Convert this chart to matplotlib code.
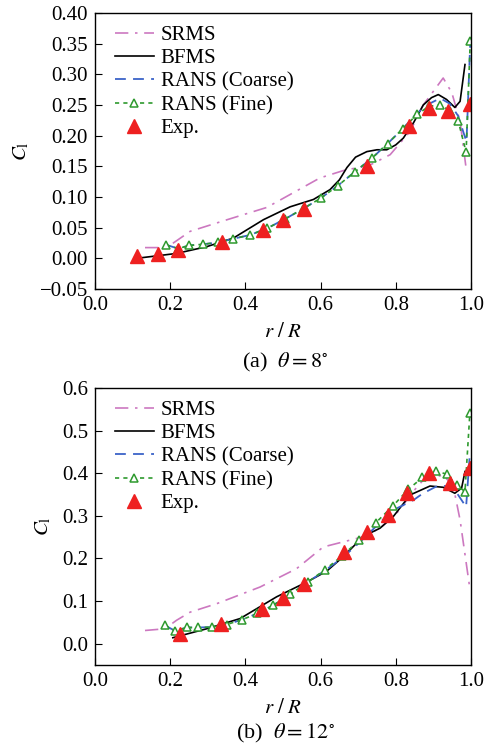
import numpy as np
import matplotlib
matplotlib.use('Agg')
import matplotlib.pyplot as plt

plt.rcParams['font.family'] = ['Liberation Serif', 'DejaVu Serif']
plt.rcParams['mathtext.fontset'] = 'stix'

# ---- (a) theta = 8 deg ----
a_srms_r = [0.133, 0.19, 0.213, 0.253, 0.341, 0.457, 0.598, 0.660, 0.731, 0.785, 0.838, 0.873, 0.926, 0.949, 0.971, 0.988]
a_srms_c = [0.0175, 0.0175, 0.027, 0.044, 0.061, 0.083, 0.131, 0.143, 0.152, 0.169, 0.207, 0.250, 0.294, 0.270, 0.223, 0.142]

a_bfms_r = [0.124, 0.217, 0.297, 0.368, 0.448, 0.519, 0.581, 0.625, 0.650, 0.670, 0.693, 0.723, 0.750, 0.776, 0.800, 0.820, 0.848, 0.873, 0.895, 0.913, 0.935, 0.957, 0.971, 0.984]
a_bfms_c = [0.001, 0.008, 0.019, 0.033, 0.063, 0.084, 0.096, 0.112, 0.128, 0.148, 0.165, 0.174, 0.177, 0.177, 0.185, 0.196, 0.222, 0.250, 0.262, 0.267, 0.259, 0.246, 0.256, 0.316]

a_coarse_r = [0.189, 0.221, 0.251, 0.288, 0.328, 0.368, 0.412, 0.458, 0.505, 0.554, 0.600, 0.645, 0.691, 0.736, 0.778, 0.818, 0.857, 0.889, 0.918, 0.944, 0.966, 0.988, 0.998]
a_coarse_c = [0.022, 0.016, 0.021, 0.023, 0.026, 0.032, 0.038, 0.049, 0.064, 0.081, 0.098, 0.118, 0.141, 0.163, 0.187, 0.211, 0.237, 0.252, 0.261, 0.252, 0.232, 0.190, 0.352]

a_fine_r = [0.189, 0.221, 0.251, 0.288, 0.328, 0.368, 0.412, 0.458, 0.505, 0.554, 0.600, 0.645, 0.691, 0.736, 0.778, 0.818, 0.857, 0.889, 0.918, 0.944, 0.966, 0.987, 0.998]
a_fine_c = [0.022, 0.016, 0.021, 0.023, 0.026, 0.032, 0.038, 0.049, 0.064, 0.081, 0.098, 0.118, 0.141, 0.163, 0.187, 0.211, 0.235, 0.248, 0.250, 0.241, 0.224, 0.173, 0.354]

a_exp_r = [0.113, 0.168, 0.220, 0.339, 0.446, 0.499, 0.557, 0.723, 0.835, 0.888, 0.940, 0.997]
a_exp_c = [0.004, 0.007, 0.013, 0.026, 0.046, 0.063, 0.081, 0.151, 0.215, 0.245, 0.240, 0.252]

# ---- (b) theta = 12 deg ----
b_srms_r = [0.133, 0.186, 0.217, 0.253, 0.324, 0.439, 0.536, 0.607, 0.714, 0.758, 0.811, 0.838, 0.873, 0.926, 0.953, 0.971, 0.997]
b_srms_c = [0.031, 0.035, 0.055, 0.074, 0.094, 0.133, 0.176, 0.227, 0.251, 0.271, 0.314, 0.349, 0.384, 0.396, 0.369, 0.290, 0.129]

b_bfms_r = [0.207, 0.297, 0.386, 0.483, 0.564, 0.616, 0.660, 0.714, 0.758, 0.793, 0.838, 0.891, 0.926, 0.957, 0.975, 0.984]
b_bfms_c = [0.014, 0.035, 0.059, 0.110, 0.145, 0.170, 0.204, 0.252, 0.271, 0.298, 0.349, 0.370, 0.367, 0.353, 0.365, 0.404]

b_coarse_r = [0.186, 0.213, 0.244, 0.275, 0.310, 0.350, 0.390, 0.432, 0.474, 0.519, 0.567, 0.612, 0.656, 0.703, 0.747, 0.792, 0.847, 0.871, 0.910, 0.950, 0.987, 0.996]
b_coarse_c = [0.043, 0.030, 0.038, 0.038, 0.039, 0.045, 0.056, 0.071, 0.090, 0.116, 0.145, 0.172, 0.200, 0.237, 0.275, 0.313, 0.337, 0.352, 0.370, 0.370, 0.321, 0.435]

b_fine_r = [0.186, 0.213, 0.244, 0.275, 0.310, 0.350, 0.390, 0.432, 0.474, 0.519, 0.567, 0.612, 0.656, 0.703, 0.747, 0.792, 0.833, 0.871, 0.907, 0.935, 0.962, 0.984, 0.997]
b_fine_c = [0.043, 0.030, 0.038, 0.038, 0.039, 0.045, 0.056, 0.071, 0.090, 0.116, 0.145, 0.174, 0.205, 0.243, 0.284, 0.323, 0.362, 0.390, 0.405, 0.398, 0.372, 0.357, 0.541]

b_exp_r = [0.226, 0.334, 0.443, 0.501, 0.557, 0.662, 0.724, 0.778, 0.829, 0.887, 0.944, 0.997]
b_exp_c = [0.022, 0.047, 0.082, 0.108, 0.140, 0.216, 0.263, 0.303, 0.353, 0.401, 0.376, 0.412]

fig = plt.figure(figsize=(4.88, 7.46), dpi=100)
# axes boxes in pixels: left 95, right 471; (a) 13-289, (b) 388-665
ax1 = fig.add_axes([95 / 488, 1 - 289 / 746, 376 / 488, 276 / 746])
ax2 = fig.add_axes([95 / 488, 1 - 665 / 746, 376 / 488, 277 / 746])


def draw(ax, sr, sc, br, bc, cr, cc, fr, fc, er, ec):
    ax.plot(sr, sc, color='#cc78c0', lw=1.2, linestyle=(0, (8, 4, 1.5, 4)), label='SRMS')
    ax.plot(br, bc, color='black', lw=1.2, label='BFMS')
    ax.plot(cr, cc, color='#3b63c8', lw=1.3, linestyle=(0, (6, 4)), label='RANS (Coarse)')
    ax.plot(fr, fc, color='#2e9a2e', lw=1.2, linestyle=(0, (2.5, 2.5)), marker='^',
            markersize=6, markerfacecolor='white', markeredgecolor='#2e9a2e', markeredgewidth=1.1,
            label='RANS (Fine)')
    ax.plot(er, ec, linestyle='none', marker='^', markersize=10, color='#ee2020', label='Exp.')
    ax.set_xlim(0, 1)
    ax.set_xticks(np.arange(0, 1.01, 0.2))
    ax.set_xticklabels(['%.1f' % v for v in np.arange(0, 1.01, 0.2)])
    ax.tick_params(direction='in', length=5, labelsize=15, pad=5, top=False, right=False)
    ax.set_xlabel(r'$r\ /\ R$', fontsize=15, labelpad=6)
    ax.set_ylabel(r'$C_\mathrm{l}$', fontsize=15, labelpad=6)
    ax.legend(loc='upper left', frameon=False, fontsize=15, handlelength=1.85,
              labelspacing=0.18, handletextpad=0.35, borderaxespad=0.2,
              bbox_to_anchor=(0.02, 1.0))
    for s in ax.spines.values():
        s.set_linewidth(1.0)


draw(ax1, a_srms_r, a_srms_c, a_bfms_r, a_bfms_c, a_coarse_r, a_coarse_c,
     a_fine_r, a_fine_c, a_exp_r, a_exp_c)
ax1.set_ylim(-0.05, 0.40)
yt = np.arange(-0.05, 0.401, 0.05)
ax1.set_yticks(yt)
ax1.set_yticklabels([('%.2f' % v).replace('-', '\u2212') if abs(v) > 1e-9 else '0.00' for v in yt])

draw(ax2, b_srms_r, b_srms_c, b_bfms_r, b_bfms_c, b_coarse_r, b_coarse_c,
     b_fine_r, b_fine_c, b_exp_r, b_exp_c)
ax2.set_ylim(-0.05, 0.6)
yt2 = np.arange(0, 0.601, 0.1)
ax2.set_yticks(yt2)
ax2.set_yticklabels(['%.1f' % v for v in yt2])

fig.text(285 / 488, 1 - 362 / 746, r'(a)  $\theta = 8^{\circ}$', ha='center', va='center', fontsize=16)
fig.text(285 / 488, 1 - 733 / 746, r'(b)  $\theta = 12^{\circ}$', ha='center', va='center', fontsize=16)

fig.savefig('out.png', dpi=100)
